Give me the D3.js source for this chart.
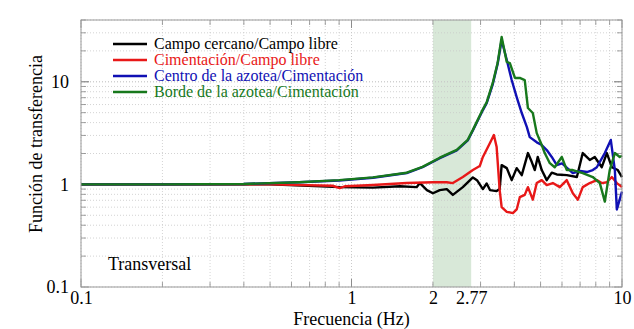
<!DOCTYPE html>
<html>
<head>
<meta charset="utf-8">
<script src="https://cdn.jsdelivr.net/npm/d3@7"></script>
<style>
  body { margin: 0; background: #fff; }
</style>
</head>
<body>
<div id="chart"></div>
<script>
// values: [frecuencia Hz, amplitud]
const campoCercano = [[0.1,1.0],[0.5,1.0],[0.905,0.94],[1.2,0.93],[1.51,0.96],[1.74,0.94],[1.79,1.03],[1.9,0.88],[2.0,0.82],[2.12,0.88],[2.25,0.9],[2.37,0.79],[2.58,0.94],[2.81,1.17],[2.91,1.1],[3.06,0.9],[3.16,1.02],[3.25,0.88],[3.44,0.86],[3.53,0.9],[3.59,1.54],[3.75,1.44],[3.91,1.1],[4.08,1.44],[4.26,1.23],[4.49,2.02],[4.64,1.65],[4.76,1.38],[4.88,1.85],[5.05,1.38],[5.27,1.1],[5.5,1.3],[5.74,1.25],[6.25,1.23],[6.81,1.18],[7.16,2.02],[7.6,1.73],[7.93,1.85],[8.42,1.47],[8.79,2.02],[9.17,1.47],[9.65,1.38],[10,1.18]];
const cimentacion = [[0.1,1.0],[0.5,1.0],[0.85,0.97],[0.905,0.92],[0.95,0.96],[1.2,0.985],[1.6,1.03],[2.0,1.05],[2.25,1.05],[2.37,1.03],[2.58,1.18],[2.81,1.38],[2.98,1.51],[3.06,1.85],[3.25,2.53],[3.36,3.03],[3.44,2.31],[3.53,0.88],[3.59,0.6],[3.75,0.54],[3.95,0.525],[4.08,0.57],[4.19,0.75],[4.37,0.79],[4.49,0.94],[4.68,0.71],[4.84,1.03],[5.05,1.1],[5.27,0.985],[5.55,1.03],[5.89,0.94],[6.25,1.1],[6.58,0.82],[6.87,0.71],[7.16,0.94],[7.6,1.03],[8.07,1.1],[8.42,1.03],[8.79,1.05],[9.17,1.18],[9.57,1.03],[10,0.94]];
const centroAzotea = [[0.1,1.0],[0.2,1.0],[0.4,1.01],[0.64,1.05],[0.9,1.09],[1.2,1.16],[1.6,1.29],[1.83,1.47],[2.12,1.8],[2.45,2.14],[2.69,2.68],[2.81,3.35],[3.06,5.3],[3.16,6.2],[3.33,9.5],[3.47,15.0],[3.59,25.5],[3.75,16.3],[3.91,10.4],[4.08,7.1],[4.26,4.96],[4.45,3.62],[4.56,2.89],[4.84,2.57],[5.05,2.42],[5.27,2.16],[5.5,1.85],[5.74,1.54],[6.0,1.6],[6.58,1.29],[7.0,1.35],[7.41,1.32],[7.8,1.38],[8.07,1.47],[8.64,2.02],[9.09,2.71],[9.41,1.38],[9.57,0.57],[10,0.85]];
const bordeAzotea = [[0.1,1.0],[0.2,1.0],[0.4,1.01],[0.64,1.05],[0.9,1.1],[1.2,1.17],[1.6,1.3],[1.83,1.48],[2.12,1.82],[2.45,2.17],[2.69,2.72],[2.81,3.4],[3.06,5.4],[3.16,6.3],[3.33,9.8],[3.47,15.3],[3.59,27.3],[3.75,15.6],[3.85,15.2],[4.02,10.9],[4.19,10.9],[4.37,10.4],[4.49,5.55],[4.68,4.96],[4.84,3.16],[5.05,2.42],[5.18,2.02],[5.41,1.61],[5.64,1.47],[5.99,1.85],[6.25,1.38],[6.58,1.38],[7.16,1.29],[7.8,1.18],[8.28,1.03],[8.64,0.68],[9.01,1.38],[9.41,2.02],[9.81,1.85],[10,1.9]];

const series = [
  {name: "Campo cercano/Campo libre", color: "#000000", data: campoCercano},
  {name: "Cimentación/Campo libre", color: "#e81818", data: cimentacion},
  {name: "Centro de la azotea/Cimentación", color: "#1010b4", data: centroAzotea},
  {name: "Borde de la azotea/Cimentación", color: "#17781c", data: bordeAzotea}
];
const xTicks = [0.1, 1, 2, 2.77, 10];
const yTicks = [0.1, 1, 10];
const banda = [2, 2.77];

const FONT = "'Liberation Serif', Tinos, 'Times New Roman', Times, 'DejaVu Serif', serif";

const W = 634, H = 329;
const margin = {top: 20, right: 12, bottom: 42, left: 81};
const iw = W - margin.left - margin.right;
const ih = H - margin.top - margin.bottom;

const x = d3.scaleLog().domain([0.1, 10]).range([0, iw]);
const y = d3.scaleLog().domain([0.1, 40]).range([ih, 0]);

const svg = d3.select("#chart").append("svg").attr("width", W).attr("height", H)
  .style("font-family", FONT);
const g = svg.append("g").attr("transform", `translate(${margin.left},${margin.top})`);

// minor positions for grid and ticks
const xMinor = [];
for (let d = 0.1; d < 10; d *= 10) for (let k = 1; k <= 10; k++) xMinor.push(+(d * k).toFixed(3));
const yMinor = [];
for (let d = 0.1; d < 100; d *= 10) for (let k = 1; k <= 10; k++) { const v = +(d * k).toFixed(3); if (v <= 40) yMinor.push(v); }

g.append("rect").attr("x", x(banda[0])).attr("width", x(banda[1]) - x(banda[0]))
  .attr("y", 0).attr("height", ih).attr("fill", "#d8e8d8");

g.selectAll(".gx").data(xMinor).enter().append("line")
  .attr("x1", d => x(d)).attr("x2", d => x(d)).attr("y1", 0).attr("y2", ih)
  .attr("stroke", "#c8c8c8").attr("stroke-width", 0.8).attr("stroke-dasharray", "1,2");
g.selectAll(".gy").data(yMinor).enter().append("line")
  .attr("y1", d => y(d)).attr("y2", d => y(d)).attr("x1", 0).attr("x2", iw)
  .attr("stroke", "#c8c8c8").attr("stroke-width", 0.8).attr("stroke-dasharray", "1,2");

// inside ticks on all four sides
const isMajor = v => Math.abs(Math.log10(v) - Math.round(Math.log10(v))) < 1e-6;
const tk = g.append("g").attr("stroke", "#888").attr("stroke-width", 0.8);
xMinor.forEach(v => {
  const L = isMajor(v) ? 8 : 5;
  tk.append("line").attr("x1", x(v)).attr("x2", x(v)).attr("y1", ih).attr("y2", ih - L);
  tk.append("line").attr("x1", x(v)).attr("x2", x(v)).attr("y1", 0).attr("y2", L);
});
yMinor.forEach(v => {
  const L = isMajor(v) ? 8 : 5;
  tk.append("line").attr("y1", y(v)).attr("y2", y(v)).attr("x1", 0).attr("x2", L);
  tk.append("line").attr("y1", y(v)).attr("y2", y(v)).attr("x1", iw).attr("x2", iw - L);
});

const line = d3.line().x(d => x(d[0])).y(d => y(d[1])).curve(d3.curveLinear);
series.forEach(s => {
  g.append("path").datum(s.data).attr("d", line).attr("fill", "none")
    .attr("stroke", s.color).attr("stroke-width", 2.4).attr("stroke-linejoin", "round");
});

g.append("rect").attr("width", iw).attr("height", ih).attr("fill", "none")
  .attr("stroke", "#999").attr("stroke-width", 1);

// axes labels
const xAxis = d3.axisBottom(x).tickValues(xTicks).tickFormat(d => String(d)).tickSize(0).tickPadding(4);
const gx = g.append("g").attr("transform", `translate(0,${ih})`).call(xAxis);
gx.select(".domain").remove();
gx.attr("font-family", null).attr("font-size", null);
gx.selectAll("text").style("font-size", "18px").style("font-family", FONT).attr("fill", "#000");

const yAxis = d3.axisLeft(y).tickValues(yTicks).tickFormat(d => String(d)).tickSize(0).tickPadding(12);
const gy = g.append("g").call(yAxis);
gy.select(".domain").remove();
gy.attr("font-family", null).attr("font-size", null);
gy.selectAll("text").style("font-size", "18px").style("font-family", FONT).attr("fill", "#000");

svg.append("text").attr("x", margin.left + iw / 2).attr("y", 325).attr("text-anchor", "middle")
  .style("font-size", "18px").text("Frecuencia (Hz)");
svg.append("text").attr("transform", `translate(42,144) rotate(-90)`).attr("text-anchor", "middle")
  .style("font-size", "18px").text("Función de transferencia");

g.append("text").attr("x", 27).attr("y", 250).style("font-size", "18px").text("Transversal");

// legend
const leg = g.append("g").attr("transform", "translate(32,24)");
series.forEach((s, i) => {
  leg.append("line").attr("x1", 0).attr("x2", 34).attr("y1", i * 16).attr("y2", i * 16)
    .attr("stroke", s.color).attr("stroke-width", 2.6);
  leg.append("text").attr("x", 41).attr("y", i * 16 + 5).style("font-size", "16px")
    .attr("fill", s.color).text(s.name);
});
</script>
</body>
</html>
